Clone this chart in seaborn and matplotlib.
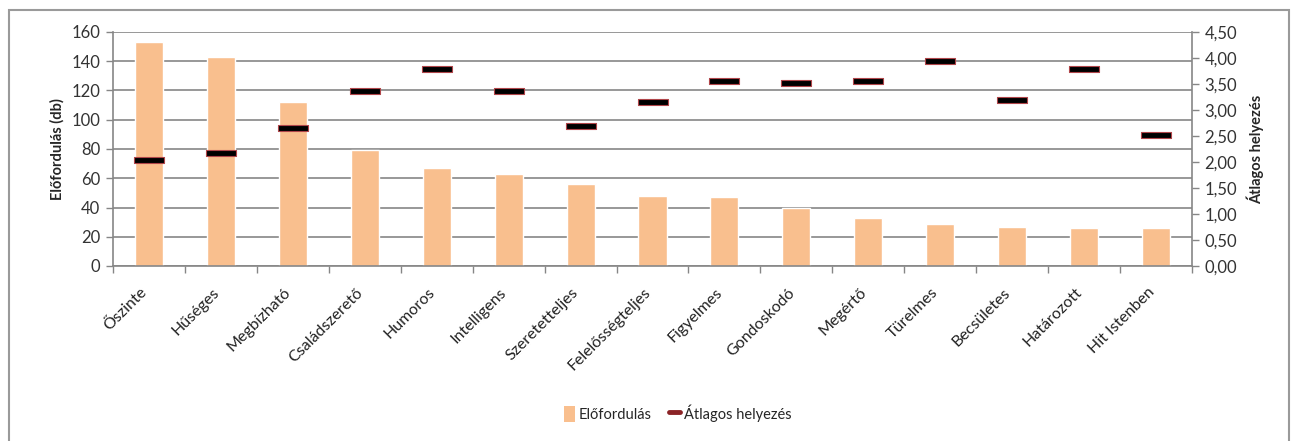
import matplotlib
matplotlib.use("Agg")
import matplotlib.pyplot as plt
import matplotlib.transforms as mtransforms
import seaborn as sns
import pandas as pd
import numpy as np
from matplotlib.patches import Patch, Rectangle
from matplotlib.lines import Line2D
from matplotlib.path import Path
from matplotlib.ticker import FuncFormatter, MultipleLocator

# data
categories = ['Őszinte', 'Hűséges', 'Megbízható', 'Családszerető', 'Humoros',
              'Intelligens', 'Szeretetteljes', 'Felelősségteljes', 'Figyelmes',
              'Gondoskodó', 'Megértő', 'Türelmes', 'Becsületes', 'Határozott',
              'Hit Istenben']
elofordulas = [153, 143, 112, 79, 67, 63, 56, 48, 47, 40, 33, 29, 27, 26, 26]
atlagos_helyezes = [2.03, 2.17, 2.65, 3.36, 3.79, 3.37, 2.69, 3.15, 3.55, 3.51,
                    3.55, 3.94, 3.19, 3.78, 2.51]

bar_color = '#F9BF8E'
grid_color = '#868686'
marker_edge = '#B0464A'

sns.set_theme(style='white')
plt.rcParams['font.family'] = ['Lato', 'DejaVu Sans']

df = pd.DataFrame({'cat': categories, 'db': elofordulas, 'avg': atlagos_helyezes})

fig = plt.figure(figsize=(12.92, 4.41), dpi=100)
ax = fig.add_axes([113 / 1292, 1 - 266 / 441, (1192 - 113) / 1292, (266 - 32) / 441])

sns.barplot(data=df, x='cat', y='db', color=bar_color, width=0.39,
            saturation=1, ax=ax, zorder=2)
ax.set_ylim(0, 160)
ax.set_xlim(-0.5, len(categories) - 0.5)
ax.yaxis.set_major_locator(MultipleLocator(20))
ax.yaxis.grid(True, color=grid_color, linewidth=1.2, zorder=0)
ax.set_axisbelow(True)
ax.set_xlabel('')
ax.set_ylabel('Előfordulás (db)', fontsize=10.5, fontweight='bold', labelpad=5)

for side in ['top', 'right']:
    ax.spines[side].set_visible(False)
for side in ['left', 'bottom']:
    ax.spines[side].set_color(grid_color)
    ax.spines[side].set_linewidth(1.2)

ax.tick_params(axis='y', which='major', left=True, length=5, width=1,
               color=grid_color, labelsize=12, pad=4, labelcolor='#333333')
ax.set_xticks(range(len(categories)))
ax.set_xticklabels(categories, rotation=45, ha='right', va='top',
                   rotation_mode='anchor', fontsize=11.5, color='#222222')
ax.tick_params(axis='x', which='major', length=0, pad=14)
# nudge the slanted labels a little to the left, like the original
shift = mtransforms.ScaledTranslation(-9 / 100, 0, fig.dpi_scale_trans)
for lbl in ax.get_xticklabels():
    lbl.set_transform(lbl.get_transform() + shift)
ax.set_xticks(np.arange(-0.5, len(categories), 1), minor=True)
ax.tick_params(axis='x', which='minor', bottom=True, length=5, width=1,
               color=grid_color)

# secondary axis with the average ranking
ax2 = ax.twinx()
verts = [(-3, -0.55), (3, -0.55), (3, 0.55), (-3, 0.55), (-3, -0.55)]
bar_marker = Path(verts, [Path.MOVETO, Path.LINETO, Path.LINETO, Path.LINETO, Path.CLOSEPOLY])
sns.scatterplot(data=df, x='cat', y='avg', marker=bar_marker, s=22 ** 2,
                color='black', edgecolor=marker_edge, linewidth=0.8,
                ax=ax2, zorder=5, legend=False)
ax2.set_ylim(0, 4.5)
ax2.yaxis.set_major_locator(MultipleLocator(0.5))
ax2.yaxis.set_major_formatter(FuncFormatter(lambda v, p: f'{v:.2f}'.replace('.', ',')))
ax2.grid(False)
ax2.set_ylabel('Átlagos helyezés', fontsize=10.5, fontweight='bold', labelpad=7)
ax2.set_xlabel('')
for side in ['top', 'left', 'bottom']:
    ax2.spines[side].set_visible(False)
ax2.spines['right'].set_color(grid_color)
ax2.spines['right'].set_linewidth(1.2)
ax2.tick_params(axis='y', right=True, length=5, width=1, color=grid_color,
                labelsize=12, pad=4, labelcolor='#333333')

handles = [
    Patch(facecolor=bar_color, edgecolor='none', label='Előfordulás'),
    Line2D([0], [0], color='#8B2326', linewidth=3.5, label='Átlagos helyezés'),
]
fig.legend(handles=handles, loc='center', bbox_to_anchor=(678 / 1292, 1 - 413 / 441),
           ncol=2, frameon=False, fontsize=10.5, handlelength=0.7,
           handleheight=1.3, columnspacing=1.2, handletextpad=0.3)

# outer chart frame
fig.patches.append(Rectangle((9 / 1292, -0.01), 1280 / 1292, 1 - 10 / 441 + 0.01,
                             transform=fig.transFigure, fill=False,
                             edgecolor='#9a9a9a', linewidth=1.5))

fig.savefig('out.png', dpi=100)
